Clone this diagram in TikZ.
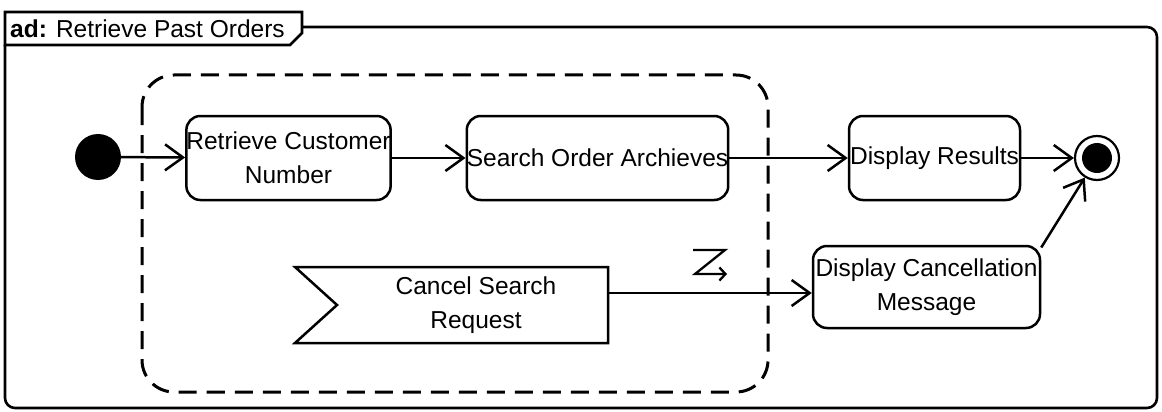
\documentclass[tikz,border=0pt]{standalone}
\usepackage{fontspec}
\setmainfont{Liberation Sans}
\usetikzlibrary{arrows.meta}

\tikzset{
  lbl/.style={font=\fontsize{24.5}{34}\selectfont, align=center, inner sep=0pt},
  action/.style={lbl, draw, line width=2.5pt, rounded corners=14pt},
  flow/.style={line width=2.5pt, -{Straight Barb[length=18pt,width=26pt,line width=2.5pt]}},
  framing/.style={line width=2.6pt},
  region/.style={line width=3pt, dash pattern=on 18pt off 10pt, rounded corners=32pt},
}

\begin{document}
\begin{tikzpicture}[x=1pt,y=-1pt]
  \useasboundingbox (0,0) rectangle (1162,412);

  % activity frame with its name tab
  \draw[framing, rounded corners=10pt] (302,27) -- (1157,27) -- (1157,408) -- (5,408) -- (5,45);
  \draw[framing] (5,45) -- (5,12) -- (302,12) -- (302,33) -- (290,45) -- cycle;
  \node[lbl, anchor=west] (title) at (10,29) {\textbf{ad:} Retrieve Past Orders};

  % interruptible region
  \draw[region] (142,75) rectangle (768,392);

  % initial and final nodes
  \node[circle, fill=black, minimum size=46pt, inner sep=0pt] (init) at (98,157) {};
  \node[circle, draw, line width=2.2pt, minimum size=44pt, inner sep=0pt] (final) at (1097,158) {};
  \node[circle, fill=black, minimum size=30pt, inner sep=0pt] (finaldot) at (1097,158) {};

  % actions
  \node[action, minimum width=203pt, minimum height=84pt] (rcn) at (288.5,158) {Retrieve Customer\\Number};
  \node[action, minimum width=261pt, minimum height=84pt] (soa) at (597.5,158) {Search Order Archieves};
  \node[action, minimum width=171pt, minimum height=84pt] (dr) at (934.5,158) {Display Results};
  \node[action, minimum width=227pt, minimum height=82pt] (dcm) at (926.5,287) {Display Cancellation\\Message};

  % accept event action
  \draw[line width=2.5pt] (295,267) -- (608,267) -- (608,343) -- (295,343) -- (337,305) -- cycle;
  \node[lbl] (csr) at (476,305) {Cancel Search\\Request};
  \coordinate (csrout) at (608,293);

  % control flows
  \draw[flow] (init) -- (rcn);
  \draw[flow] (rcn) -- (soa);
  \draw[flow] (soa) -- (dr);
  \draw[flow] (dr) -- (final);
  \draw[flow] (csrout) -- (dcm.west |- csrout);
  \draw[flow] (dcm.19) -- (final);

  % interrupting edge marker
  \coordinate (z1) at (693,250);
  \coordinate (z2) at (725,250);
  \coordinate (z3) at (695,274);
  \coordinate (z4) at (727,274);
  \draw[line width=2.3pt, -{Straight Barb[length=6pt,width=13pt,line width=2.3pt]}] (z1) -- (z2) -- (z3) -- (z4);
\end{tikzpicture}
\end{document}
